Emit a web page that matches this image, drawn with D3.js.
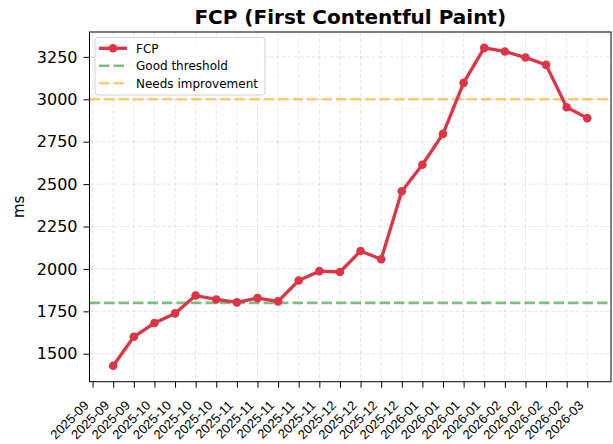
<!DOCTYPE html>
<html>
<head>
<meta charset="utf-8">
<script src="https://cdn.jsdelivr.net/npm/d3@7"></script>
<style>
  body { margin: 0; background: #fff; }
  svg { display: block; font-family: "DejaVu Sans", sans-serif; }
</style>
</head>
<body>
<svg id="chart" width="613" height="444"></svg>
<script>
// ---- data ----
const dates = ["2025-09-14","2025-09-21","2025-09-28","2025-10-05","2025-10-12","2025-10-19","2025-10-26",
  "2025-11-02","2025-11-09","2025-11-16","2025-11-23","2025-11-30","2025-12-07","2025-12-14","2025-12-21",
  "2025-12-28","2026-01-04","2026-01-11","2026-01-18","2026-01-25","2026-02-01","2026-02-08","2026-02-15",
  "2026-02-22","2026-03-01"];
const fcpValues = [null,1429,1600,1681,1738,1843,1820,1803,1828,1809,1932,1987,1982,2106,2057,
  2458,2614,2796,3097,3303,3282,3246,3203,2953,2889];
const yTicks = [1500,1750,2000,2250,2500,2750,3000,3250];
const goodThreshold = 1800;
const needsImprovement = 3000;
const seriesNames = ["FCP","Good threshold","Needs improvement"];

// ---- layout ----
const svg = d3.select("#chart");
const L = 89.5, R = 611, T = 32, B = 381.7;
const parse = d3.timeParse("%Y-%m-%d");
const data = dates.map((d,i)=>({date: parse(d), value: fcpValues[i]}));
const valid = data.filter(d=>d.value!=null);

const xExt = d3.extent(valid, d=>d.date);
const xPad = (xExt[1]-xExt[0])*0.05;
const x = d3.scaleTime().domain([new Date(+xExt[0]-xPad), new Date(+xExt[1]+xPad)]).range([L,R]);
const yExt = d3.extent(valid, d=>d.value);
const yPad = (yExt[1]-yExt[0])*0.05;
const y = d3.scaleLinear().domain([yExt[0]-yPad, yExt[1]+yPad]).range([B,T]);

const red = "#dc3545", green = "rgba(0,128,0,0.5)", orange = "rgba(255,165,0,0.55)";

// grid
const grid = svg.append("g");
grid.selectAll("line.gx").data(data).join("line")
  .attr("x1", d=>x(d.date)).attr("x2", d=>x(d.date)).attr("y1", T).attr("y2", B)
  .attr("stroke", "#b0b0b0").attr("stroke-opacity", 0.3).attr("stroke-width", 1).attr("stroke-dasharray", "4,2");
grid.selectAll("line.gy").data(yTicks).join("line")
  .attr("x1", L).attr("x2", R).attr("y1", d=>y(d)).attr("y2", d=>y(d))
  .attr("stroke", "#b0b0b0").attr("stroke-opacity", 0.3).attr("stroke-width", 1).attr("stroke-dasharray", "4,2");

// thresholds
const dash = "10.5,4";
svg.append("line").attr("x1", L).attr("x2", R).attr("y1", y(goodThreshold)).attr("y2", y(goodThreshold))
  .attr("stroke", green).attr("stroke-width", 2.6).attr("stroke-dasharray", dash);
svg.append("line").attr("x1", L).attr("x2", R).attr("y1", y(needsImprovement)).attr("y2", y(needsImprovement))
  .attr("stroke", orange).attr("stroke-width", 2.6).attr("stroke-dasharray", dash);

// line
const line = d3.line().defined(d=>d.value!=null).x(d=>x(d.date)).y(d=>y(d.value));
svg.append("path").datum(data).attr("d", line).attr("fill", "none")
  .attr("stroke", red).attr("stroke-width", 3.3).attr("stroke-linejoin", "round");
svg.selectAll("circle.pt").data(valid).join("circle")
  .attr("cx", d=>x(d.date)).attr("cy", d=>y(d.value)).attr("r", 4.3).attr("fill", red);

// axes
const fmt = d3.timeFormat("%Y-%m");
const xAxis = d3.axisBottom(x).tickValues(data.map(d=>d.date)).tickFormat(fmt).tickSize(6).tickSizeOuter(0);
const gx = svg.append("g").attr("transform", `translate(0,${B})`).call(xAxis);
gx.select(".domain").remove();
gx.selectAll(".tick line").attr("stroke", "#000").attr("stroke-width", 1);
gx.selectAll(".tick text").attr("font-size", 13).attr("fill", "#000")
  .attr("text-anchor", "end").attr("dy", null).attr("y", 0)
  .attr("transform", "translate(-3.5,24.5) rotate(-45)");

const yAxis = d3.axisLeft(y).tickValues(yTicks).tickFormat(d3.format("d")).tickSize(6).tickSizeOuter(0).tickPadding(6);
const gy = svg.append("g").attr("transform", `translate(${L},0)`).call(yAxis);
gy.select(".domain").remove();
gy.selectAll(".tick line").attr("stroke", "#000");
gy.selectAll(".tick text").attr("font-size", 16).attr("fill", "#000").attr("font-family", "DejaVu Sans");

// frame
svg.append("rect").attr("x", L).attr("y", T).attr("width", R-L).attr("height", B-T)
  .attr("fill", "none").attr("stroke", "#000").attr("stroke-width", 1);

// title & labels
svg.append("text").attr("x", (L+R)/2).attr("y", 24).attr("text-anchor", "middle")
  .attr("font-size", 20).attr("font-weight", "bold").text("FCP (First Contentful Paint)");
svg.append("text").attr("transform", `translate(24,${(T+B)/2}) rotate(-90)`).attr("text-anchor", "middle")
  .attr("font-size", 15).text("ms");

// legend
const lg = svg.append("g");
lg.append("rect").attr("x", 95).attr("y", 37.5).attr("width", 170).attr("height", 57.5).attr("rx", 3)
  .attr("fill", "#fff").attr("fill-opacity", 0.8).attr("stroke", "#d0d0d0");
const lgColors = [red, green, orange];
seriesNames.forEach((name, i) => {
  const yy = 48.3 + i*17.5;
  const ln = lg.append("line").attr("x1", 99).attr("x2", 127).attr("y1", yy).attr("y2", yy)
    .attr("stroke", lgColors[i]).attr("stroke-width", i===0 ? 3.3 : 2.6);
  if (i>0) ln.attr("stroke-dasharray", dash);
  else lg.append("circle").attr("cx", 113).attr("cy", yy).attr("r", 4.3).attr("fill", red);
  lg.append("text").attr("x", 136).attr("y", yy).attr("dy", "0.35em").attr("font-size", 12).text(name);
});
</script>
</body>
</html>
